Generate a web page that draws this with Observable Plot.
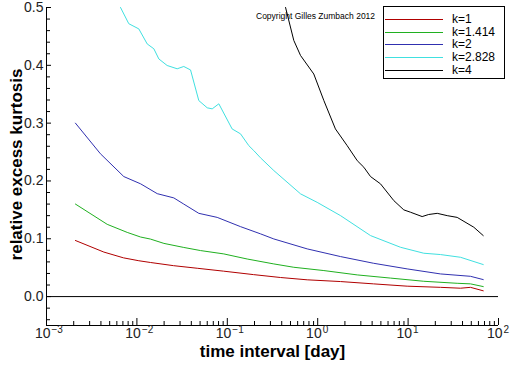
<!DOCTYPE html>
<html>
<head>
<meta charset="utf-8">
<script src="https://cdn.jsdelivr.net/npm/d3@7"></script>
<script src="https://cdn.jsdelivr.net/npm/@observablehq/plot@0.6"></script>
<style>
  html, body { margin: 0; padding: 0; background: #fff; }
  #chart svg { display: block; }
</style>
</head>
<body>
<div id="chart"></div>
<script>
// time interval [day] and relative excess kurtosis, per k
const k1X = [0.00209, 0.00431, 0.00711, 0.0105, 0.0141, 0.0254, 0.0465, 0.0908, 0.195, 0.388, 0.766, 1.79, 4.14, 9.77, 22.8, 38.0, 49.0, 67.8];
const k1Y = [0.097, 0.077, 0.067, 0.062, 0.059, 0.0535, 0.049, 0.044, 0.038, 0.033, 0.029, 0.026, 0.022, 0.018, 0.016, 0.0145, 0.016, 0.010];

const k1414X = [0.00209, 0.00469, 0.00782, 0.0110, 0.0141, 0.0199, 0.0330, 0.0506, 0.0915, 0.166, 0.327, 0.544, 1.17, 2.74, 6.38, 14.9, 34.9, 49.0, 67.8];
const k1414Y = [0.160, 0.125, 0.111, 0.103, 0.0995, 0.092, 0.085, 0.0796, 0.0738, 0.065, 0.0565, 0.0507, 0.045, 0.0375, 0.032, 0.0265, 0.023, 0.022, 0.0173];

const k2X = [0.00209, 0.00395, 0.00716, 0.0110, 0.0168, 0.0256, 0.0330, 0.0484, 0.0773, 0.140, 0.233, 0.327, 0.766, 1.79, 4.16, 9.77, 22.8, 49.0, 67.8];
const k2Y = [0.300, 0.247, 0.2076, 0.195, 0.178, 0.1707, 0.160, 0.144, 0.137, 0.121, 0.1085, 0.0997, 0.0825, 0.0692, 0.0576, 0.0479, 0.0392, 0.0351, 0.0294];

const k2828X = [0.00659, 0.00813, 0.0105, 0.0130, 0.0154, 0.0175, 0.0216, 0.0279, 0.0330, 0.0392, 0.0484, 0.0600, 0.0681, 0.0806, 0.113, 0.140, 0.173, 0.196, 0.233, 0.327, 0.646, 0.987, 1.79, 3.84, 8.24, 14.9, 22.8, 38.0, 67.8];
const k2828Y = [0.500, 0.472, 0.463, 0.437, 0.4286, 0.411, 0.3997, 0.394, 0.398, 0.392, 0.339, 0.3265, 0.3247, 0.3334, 0.290, 0.2815, 0.261, 0.2526, 0.240, 0.218, 0.1777, 0.163, 0.140, 0.1055, 0.0853, 0.075, 0.0727, 0.068, 0.0554];

const k4X = [0.441, 0.544, 0.646, 0.905, 1.17, 1.57, 2.12, 2.74, 3.24, 3.84, 4.95, 6.95, 8.96, 10.6, 14.3, 16.9, 21.0, 27.1, 34.9, 53.3, 67.8];
const k4Y = [0.500, 0.443, 0.417, 0.385, 0.339, 0.290, 0.261, 0.235, 0.2237, 0.2076, 0.195, 0.166, 0.150, 0.146, 0.1384, 0.142, 0.144, 0.140, 0.137, 0.120, 0.1055];

const seriesNames = ["k=1", "k=1.414", "k=2", "k=2.828", "k=4"];
const seriesColors = ["#b00000", "#20b020", "#3030b0", "#40e0e0", "#000000"];
const seriesX = [k1X, k1414X, k2X, k2828X, k4X];
const seriesY = [k1Y, k1414Y, k2Y, k2828Y, k4Y];

const xMajorExp = [-3, -2, -1, 0, 1, 2];
const yMajor = [0, 0.1, 0.2, 0.3, 0.4, 0.5];
const yMinor = [-0.04, -0.02, 0.02, 0.04, 0.06, 0.08, 0.12, 0.14, 0.16, 0.18, 0.22, 0.24, 0.26, 0.28, 0.32, 0.34, 0.36, 0.38, 0.42, 0.44, 0.46, 0.48];
const xMinor = [];
for (const e of [-3, -2, -1, 0, 1]) for (let m = 2; m <= 9; m++) xMinor.push(m * 10 ** e);

const xLabel = "time interval [day]";
const yLabel = "relative excess kurtosis";
const copyright = "Copyright Gilles Zumbach 2012";

const font = "'Liberation Sans', Arial, Helvetica, sans-serif";

const lineMarks = seriesNames.map((name, i) =>
  Plot.line(seriesX[i].map((x, j) => ({x, y: seriesY[i][j]})), {
    x: "x", y: "y", stroke: seriesColors[i], strokeWidth: 1, clip: true
  })
);

const chart = Plot.plot({
  width: 512,
  height: 366,
  marginLeft: 46,
  marginRight: 14,
  marginTop: 7,
  marginBottom: 41,
  style: {fontFamily: font, background: "#fff", color: "#000"},
  x: {type: "log", domain: [1e-3, 1e2], axis: null},
  y: {domain: [-0.05, 0.5], axis: null},
  marks: [
    // zero line
    Plot.ruleY([0], {stroke: "#000", strokeWidth: 1}),
    ...lineMarks,
    // axis lines
    Plot.ruleX([1e-3], {stroke: "#000", strokeWidth: 1}),
    Plot.ruleY([-0.05], {stroke: "#000", strokeWidth: 1}),
    // y ticks (inward)
    Plot.axisY(yMajor, {anchor: "left", tickSize: -5, tickPadding: 8, tickFormat: d3.format(".1f"), fontSize: 14, fill: "#222", label: null}),
    Plot.axisY(yMinor, {anchor: "left", tickSize: -4, tickFormat: () => "", label: null}),
    // x ticks (inward)
    Plot.axisX(xMajorExp.map(e => 10 ** e), {anchor: "bottom", tickSize: -7, tickFormat: () => "", label: null}),
    Plot.axisX(xMinor, {anchor: "bottom", tickSize: -4, tickFormat: () => "", label: null}),
    // x tick labels 10^e
    Plot.text(xMajorExp, {x: e => 10 ** e, frameAnchor: "bottom", text: () => "10", textAnchor: "end", dx: 4, dy: 12, fontSize: 14, fill: "#222"}),
    Plot.text(xMajorExp, {x: e => 10 ** e, frameAnchor: "bottom", text: e => e < 0 ? "\u2212" + (-e) : String(e), textAnchor: "start", dx: 5, dy: 7.5, fontSize: 10, fill: "#222"}),
    // axis titles
    Plot.text([xLabel], {frameAnchor: "bottom", textAnchor: "middle", dy: 31, fontSize: 17, fontWeight: "bold", fill: "#000"}),
    Plot.text([yLabel], {frameAnchor: "left", textAnchor: "middle", rotate: -90, dx: -30, dy: -2, fontSize: 17, fontWeight: "bold", fill: "#000"})
  ]
});

document.getElementById("chart").appendChild(chart);

// legend box and copyright note
const svg = d3.select(chart);
const lg = svg.append("g").attr("font-family", font).attr("text-anchor", "start");
lg.append("rect").attr("x", 383.5).attr("y", 6.5).attr("width", 121).attr("height", 72)
  .attr("fill", "#fff").attr("stroke", "#000").attr("stroke-width", 1);
const rowY = [19, 31.5, 44, 57, 70];
seriesNames.forEach((name, i) => {
  const ly = Math.round(rowY[i]) + 0.5;
  lg.append("line").attr("x1", 385).attr("x2", 443).attr("y1", ly).attr("y2", ly)
    .attr("stroke", seriesColors[i]).attr("stroke-width", 1.2);
  lg.append("text").attr("x", 452).attr("y", rowY[i]).attr("dy", "0.36em")
    .attr("font-size", 12).attr("fill", "#000").text(name);
});
svg.append("text").attr("x", 256).attr("y", 18.5).attr("font-family", font).attr("text-anchor", "start")
  .attr("font-size", 8.5).attr("fill", "#000").text(copyright);
</script>
</body>
</html>
